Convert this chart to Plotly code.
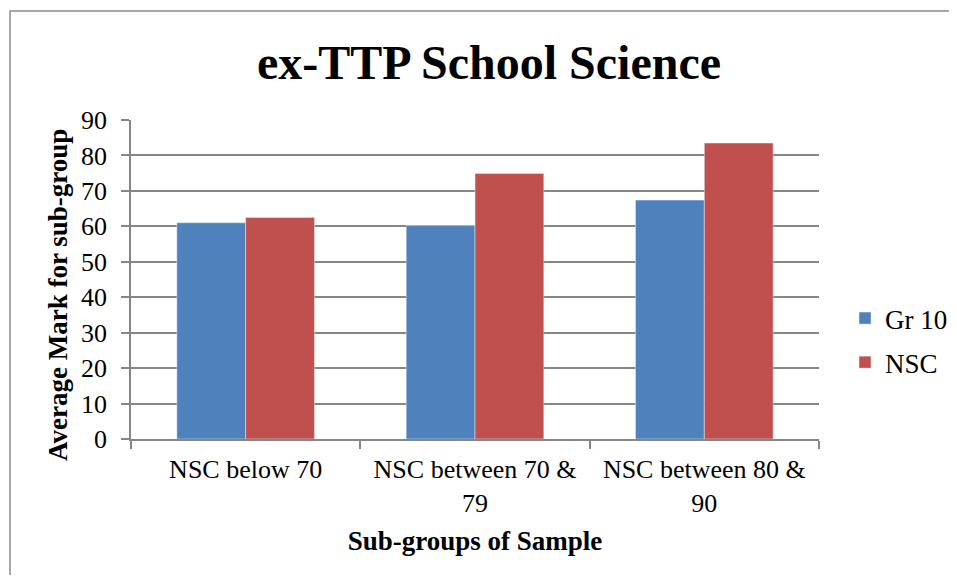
import plotly.graph_objects as go

categories = ["NSC below 70", "NSC between 70 &<br>79", "NSC between 80 &<br>90"]
gr10 = [61.0, 60.2, 67.4]
nsc = [62.5, 74.9, 83.5]
y_ticks = [0, 10, 20, 30, 40, 50, 60, 70, 80, 90]

OFF = 8  # page body margin
W, H = 949, 567
L, R, T, B = 123, 138, 112, 136
pw = W - L - R
ph = H - T - B

def px_x(p):
    return (p - OFF - L) / pw

def px_y(p):
    return (H - B - (p - OFF)) / ph

font = "Liberation Serif, Times New Roman, serif"

fig = go.Figure()
fig.add_trace(go.Bar(x=categories, y=gr10, name="Gr 10", marker=dict(color="#4F81BD"),
                     legendgroup="a"))
fig.add_trace(go.Bar(x=categories, y=nsc, name="NSC", marker=dict(color="#C0504D"),
                     legendgroup="b"))

fig.update_layout(
    width=W, height=H,
    margin=dict(l=L, r=R, t=T, b=B, autoexpand=False),
    paper_bgcolor="white", plot_bgcolor="white",
    barmode="group", bargap=0.40, bargroupgap=0,
    font=dict(family=font, size=26, color="black"),
    title=dict(text="<b>ex-TTP School Science</b>", xref="container", x=(489 - OFF) / W,
               xanchor="center", yref="container", y=1 - (62 - OFF) / H, yanchor="middle",
               font=dict(family=font, size=48)),
    legend=dict(x=px_x(845), y=px_y(294), xanchor="left", yanchor="top",
                font=dict(family=font, size=27), tracegroupgap=6,
                itemwidth=30, bgcolor="rgba(0,0,0,0)"),
    showlegend=True,
)
fig.update_xaxes(
    showline=True, linecolor="#868686", linewidth=1.5,
    ticks="outside", tickson="boundaries", ticklen=8, tickcolor="#868686", tickwidth=1.5,
    tickfont=dict(family=font, size=26), ticklabelstandoff=6,
    title=dict(text="<b>Sub-groups of Sample</b>", font=dict(family=font, size=27), standoff=14),
    showgrid=False,
)
fig.update_yaxes(
    range=[0, 90], tickvals=y_ticks, showline=True, linecolor="#868686", linewidth=1.5,
    ticks="outside", ticklen=8, tickcolor="#868686", tickwidth=1.5,
    showgrid=True, gridcolor="#868686", gridwidth=1.5,
    tickfont=dict(family=font, size=26), ticklabelstandoff=9,
    zeroline=False,
)
fig.add_annotation(text="<b>Average Mark for sub-group</b>", textangle=-90,
                   xref="paper", yref="paper", x=px_x(58), y=px_y(295),
                   xanchor="center", yanchor="middle", showarrow=False,
                   font=dict(family=font, size=27))
fig.add_shape(type="rect", xref="paper", yref="paper",
              x0=px_x(10), x1=px_x(1000), y0=px_y(620), y1=px_y(11),
              line=dict(color="#8C8C8C", width=1.5), fillcolor="rgba(0,0,0,0)", layer="below")

fig.write_html("out.html")
